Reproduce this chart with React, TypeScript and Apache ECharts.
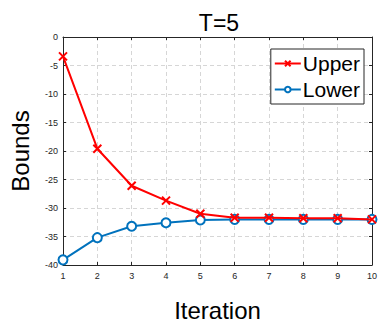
import React, { useEffect, useRef } from "react";
import * as echarts from "echarts";

const iterations = [1, 2, 3, 4, 5, 6, 7, 8, 9, 10];
const upperBounds = [-3.4, -19.6, -26.1, -28.7, -31.0, -31.7, -31.7, -31.8, -31.8, -32.0];
const lowerBounds = [-39.1, -35.2, -33.2, -32.6, -32.1, -32.0, -32.0, -32.0, -32.0, -32.0];

const FONT = "'Liberation Sans', Arial, sans-serif";
const AXIS_COLOR = "#262626";

export default function App() {
  const ref = useRef<HTMLDivElement>(null);
  useEffect(() => {
    if (!ref.current) return;
    const chart = echarts.init(ref.current, null, { renderer: "svg" });
    const gridLine = { show: true, lineStyle: { color: "#d6d6d6", type: [4, 3] as any, width: 1 } };
    chart.setOption({
      animation: false,
      backgroundColor: "#ffffff",
      textStyle: { fontFamily: FONT },
      title: {
        text: "T=5",
        left: 214,
        textAlign: "center",
        top: 6,
        textStyle: { fontSize: 23, fontWeight: "normal", color: "#000", fontFamily: FONT },
      },
      grid: { left: 56, right: 10, top: 37, bottom: 46, show: false },
      legend: {
        orient: "vertical",
        right: 18,
        top: 49,
        padding: [4, 4, 4, 3],
        itemGap: 5,
        itemWidth: 26,
        itemHeight: 7,
        backgroundColor: "#fff",
        borderColor: "#262626",
        borderWidth: 1,
        borderRadius: 0,
        textStyle: { fontSize: 21, color: "#000", fontFamily: FONT, padding: [0, 0, 0, -3] },
        data: ["Upper", "Lower"],
      },
      xAxis: [
        {
          type: "value",
          min: 1,
          max: 10,
          interval: 1,
          name: "Iteration",
          nameLocation: "middle",
          nameGap: 33,
          nameTextStyle: { fontSize: 24, color: "#000", fontFamily: FONT },
          axisLine: { show: true, onZero: false, lineStyle: { color: AXIS_COLOR, width: 1 } },
          axisTick: { show: true, inside: true, length: 3, lineStyle: { color: AXIS_COLOR } },
          axisLabel: { fontSize: 9, color: AXIS_COLOR, margin: 6, fontFamily: FONT },
          splitLine: gridLine,
        },
        {
          type: "value",
          position: "top",
          min: 1,
          max: 10,
          interval: 1,
          axisLine: { show: true, onZero: false, lineStyle: { color: AXIS_COLOR, width: 1 } },
          axisTick: { show: true, inside: true, length: 3, lineStyle: { color: AXIS_COLOR } },
          axisLabel: { show: false },
          splitLine: { show: false },
        },
      ],
      yAxis: [
        {
          type: "value",
          min: -40,
          max: 0,
          interval: 5,
          name: "Bounds",
          nameLocation: "middle",
          nameGap: 31,
          nameTextStyle: { fontSize: 24, color: "#000", fontFamily: FONT },
          axisLine: { show: true, onZero: false, lineStyle: { color: AXIS_COLOR, width: 1 } },
          axisTick: { show: true, inside: true, length: 3, lineStyle: { color: AXIS_COLOR } },
          axisLabel: { fontSize: 9, color: AXIS_COLOR, margin: 5, fontFamily: FONT },
          splitLine: gridLine,
        },
        {
          type: "value",
          position: "right",
          min: -40,
          max: 0,
          interval: 5,
          axisLine: { show: true, onZero: false, lineStyle: { color: AXIS_COLOR, width: 1 } },
          axisTick: { show: true, inside: true, length: 3, lineStyle: { color: AXIS_COLOR } },
          axisLabel: { show: false },
          splitLine: { show: false },
        },
      ],
      series: [
        {
          name: "Upper",
          type: "line",
          data: iterations.map((x, i) => [x, upperBounds[i]]),
          symbol: "path://M0 0L10 10M10 0L0 10",
          symbolSize: 8,
          showAllSymbol: true,
          lineStyle: { color: "#ff0000", width: 2 },
          itemStyle: { color: "#ff0000", borderColor: "#ff0000", borderWidth: 2 },
          z: 3,
        },
        {
          name: "Lower",
          type: "line",
          data: iterations.map((x, i) => [x, lowerBounds[i]]),
          symbol: "emptyCircle",
          symbolSize: 9,
          showAllSymbol: true,
          lineStyle: { color: "#0072bd", width: 2 },
          itemStyle: { color: "#0072bd", borderColor: "#0072bd", borderWidth: 2 },
          z: 2,
        },
      ],
    });
    return () => chart.dispose();
  }, []);
  return (
    <div
      ref={ref}
      style={{ position: "fixed", left: 0, top: 0, width: 382, height: 327, background: "#fff" }}
    />
  );
}
